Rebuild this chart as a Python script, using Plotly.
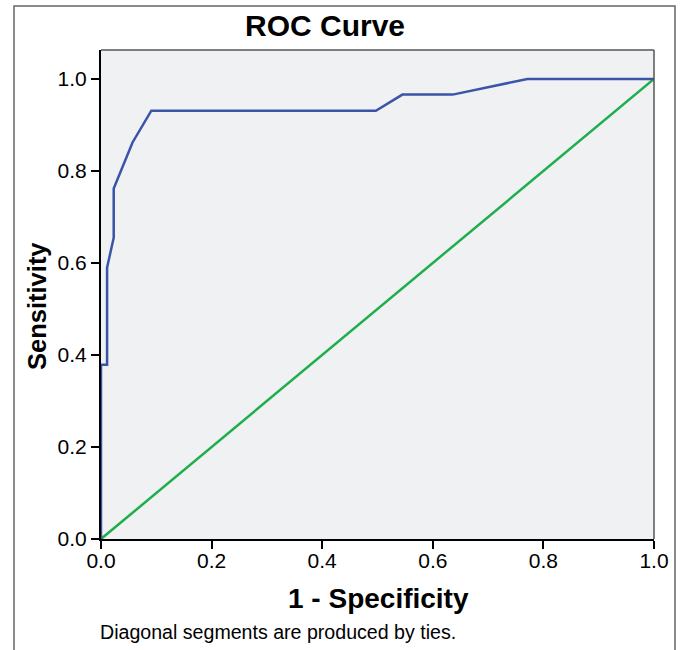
import plotly.graph_objects as go

# ROC curve
fpr = [0.0, 0.0, 0.011, 0.011, 0.023, 0.023, 0.057, 0.091, 0.497, 0.545, 0.636, 0.771, 1.0]
tpr = [0.0, 0.379, 0.379, 0.59, 0.655, 0.762, 0.862, 0.931, 0.931, 0.966, 0.966, 1.0, 1.0]
ref_x = [0.0, 1.0]
ref_y = [0.0, 1.0]
tick_vals = [0.0, 0.2, 0.4, 0.6, 0.8, 1.0]
tick_text = ["0.0", "0.2", "0.4", "0.6", "0.8", "1.0"]

FONT = "Liberation Sans, Arial, sans-serif"

fig = go.Figure()
fig.add_trace(go.Scatter(x=ref_x, y=ref_y, mode="lines",
                         line=dict(color="#1fae4b", width=2.5), showlegend=False))
fig.add_trace(go.Scatter(x=fpr, y=tpr, mode="lines",
                         line=dict(color="#3a54a8", width=2.5), showlegend=False))

fig.update_layout(
    width=681, height=650,
    margin=dict(l=101, r=27, t=50, b=111),
    paper_bgcolor="white",
    plot_bgcolor="#f0f1f2",
    font=dict(family=FONT, color="black"),
    showlegend=False,
)
fig.update_xaxes(range=[0, 1.0], tickvals=tick_vals, ticktext=tick_text,
                 showgrid=False, zeroline=False, showline=True, linecolor="black",
                 linewidth=2, ticks="outside", ticklen=8, tickwidth=2, tickcolor="black",
                 ticklabelstandoff=-6,
                 tickfont=dict(size=21, family=FONT))
fig.update_yaxes(range=[0, 1.063], tickvals=tick_vals, ticktext=tick_text,
                 showgrid=False, zeroline=False, showline=True, linecolor="black",
                 linewidth=2, ticks="outside", ticklen=8, tickwidth=2, tickcolor="black",
                 tickfont=dict(size=21, family=FONT))

# plot frame top/right and outer border
fig.add_shape(type="line", xref="paper", yref="paper", x0=0, x1=1, y0=1, y1=1,
              line=dict(color="#555555", width=1.5))
fig.add_shape(type="line", xref="paper", yref="paper", x0=1, x1=1, y0=0, y1=1,
              line=dict(color="#555555", width=1.5))
fig.add_shape(type="rect", xref="paper", yref="paper",
              x0=(14 - 101) / 553, x1=(675 - 101) / 553,
              y0=(539 - 670) / 489, y1=(539 - 6) / 489,
              line=dict(color="#666666", width=1.5), layer="below")

fig.add_annotation(text="<b>ROC Curve</b>", xref="paper", yref="paper",
                   x=(325 - 101) / 553, y=(539 - 25) / 489, showarrow=False,
                   font=dict(size=30, family=FONT), xanchor="center", yanchor="middle")
fig.add_annotation(text="<b>1 - Specificity</b>", xref="paper", yref="paper",
                   x=(378 - 101) / 553, y=(539 - 598) / 489, showarrow=False,
                   font=dict(size=28, family=FONT), xanchor="center", yanchor="middle")
fig.add_annotation(text="Diagonal segments are produced by ties.", xref="paper", yref="paper",
                   x=(98 - 101) / 553, y=(539 - 632) / 489, showarrow=False,
                   font=dict(size=19.6, family=FONT), xanchor="left", yanchor="middle")
fig.add_annotation(text="<b>Sensitivity</b>", xref="paper", yref="paper",
                   x=(37 - 101) / 553, y=(539 - 306) / 489, showarrow=False, textangle=-90,
                   font=dict(size=25.5, family=FONT), xanchor="center", yanchor="middle")

fig.write_html("out.html",
               config={"displayModeBar": False},
               post_script="document.body.style.margin='0px';"
                           "document.body.style.overflow='hidden';")
